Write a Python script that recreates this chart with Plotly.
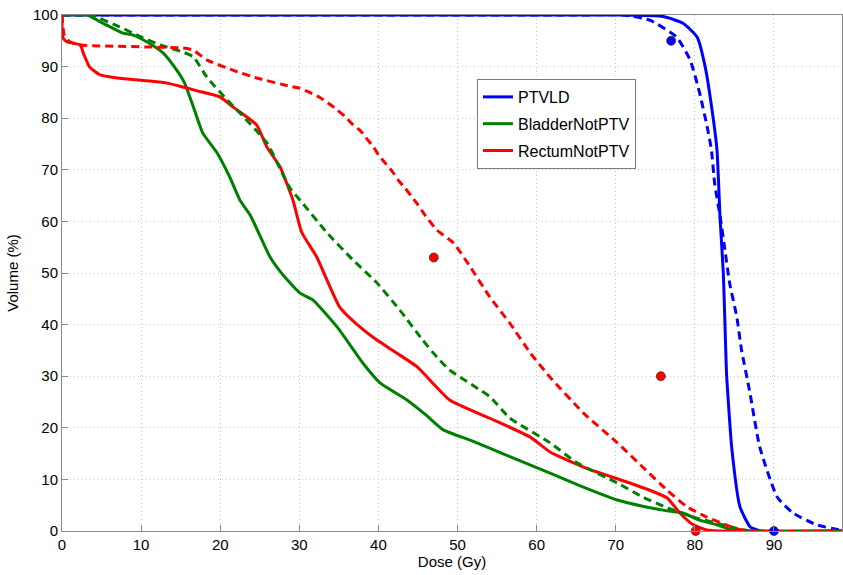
import plotly.graph_objects as go

# PTVLD
ptv_dose = [0, 70, 76, 78.5, 80.3, 81.3, 82.3, 82.8, 83.2, 83.6, 83.8, 84.0, 84.2, 84.65, 85.7, 87.0, 88.3, 98.6]
ptv_vol = [100, 100, 99.7, 98.4, 95.7, 90, 80.2, 73.8, 60.3, 49.9, 40.3, 30.6, 25.8, 16.3, 4.7, 0.8, 0, 0]
ptv_plan_dose = [0, 65, 70.9, 74.3, 77.7, 79.4, 80.6, 81.6, 82.1, 82.5, 83.2, 83.8, 84.4, 85.3, 85.9, 86.9, 88.2, 90.4, 92.4, 95.4, 98.3, 98.6]
ptv_plan_vol = [100, 100, 100, 99, 95.7, 91.3, 84.9, 78, 73.8, 67.4, 60.9, 54.5, 48, 41.5, 35.1, 27.3, 16.3, 6.6, 3.5, 1.2, 0.2, 0.1]

# BladderNotPTV
bl_dose = [0, 3.2, 4.8, 6.1, 7.7, 9.0, 10.7, 12.8, 14.5, 15.5, 16.6, 17.8, 19.6, 21.2, 22.5, 23.8, 26.3, 28, 30.1, 31.7, 34.8, 38.0, 40.2, 43.6, 46, 48.2, 51.6, 56, 61.7, 65.9, 70.2, 73.4, 76.5, 78.5, 80.6, 82.8, 84.4, 86, 98.6]
bl_vol = [100, 100, 98.7, 97.7, 96.5, 96.1, 94.8, 92.6, 89.3, 86.8, 82.2, 77.1, 73.3, 68.6, 64.1, 61.2, 53.1, 49.5, 46.1, 44.8, 39.5, 32.6, 28.7, 25.4, 22.5, 19.6, 17.6, 14.8, 11.2, 8.5, 6.0, 4.8, 3.9, 3.5, 2.1, 1.2, 0.3, 0, 0]
bl_plan_dose = [0, 3.9, 7.3, 9.9, 12.4, 15.3, 16.6, 18.3, 20.9, 22.5, 25.9, 28.8, 30.1, 33.5, 36.8, 39.8, 42.7, 45.6, 47.4, 49.0, 54.1, 56.6, 61.7, 65.1, 70.2, 73.4, 76.5, 79.8, 82.8, 85.3, 87, 98.6]
bl_plan_vol = [100, 99.8, 97.7, 95.8, 94.2, 92.8, 91.9, 88.0, 83.5, 81, 75.2, 66.5, 64.1, 57.8, 52.5, 48.1, 42.8, 37.0, 33.7, 31.2, 26.0, 21.9, 17.1, 13.2, 9.3, 6.6, 4.5, 2.7, 1.5, 0.5, 0, 0]

# RectumNotPTV
re_dose = [0, 0.1, 0.6, 2.3, 2.7, 3.5, 4.8, 7.0, 11.1, 13.3, 14.9, 17.1, 20.0, 21.6, 24.6, 25.9, 27.6, 28.4, 29.2, 30.3, 32.2, 35.1, 37.7, 39.8, 42.3, 44.9, 49.0, 54, 59.2, 61.7, 65.9, 71.4, 74.3, 76.5, 78.1, 79.8, 81.5, 83, 98.6]
re_vol = [100, 95.7, 94.8, 94.2, 92.6, 89.9, 88.4, 87.8, 87.2, 86.8, 86.2, 85.3, 84.1, 82.2, 78.7, 74.4, 70.5, 67.4, 64.1, 57.9, 53.1, 43.4, 39.5, 37.0, 34.5, 31.8, 25.4, 21.9, 18.2, 15.3, 12.4, 9.5, 7.9, 6.4, 3.5, 1.2, 0.2, 0, 0]
re_plan_dose = [0, 0.3, 1.0, 2.3, 15.3, 16.6, 18.3, 21.6, 24.6, 28.8, 30.1, 31.3, 32.6, 33.6, 34.7, 35.8, 36.6, 37.7, 38.6, 39.4, 40.0, 40.8, 41.7, 42.5, 43.4, 44.2, 45.0, 45.9, 47.4, 49.5, 51.6, 54.1, 56.6, 59.2, 61.7, 65.9, 70.2, 73.4, 76.5, 79.0, 81.5, 83.6, 85.3, 87, 98.6]
re_plan_vol = [100, 96, 94.8, 94.2, 93.6, 93.2, 91.3, 89.3, 87.8, 86.2, 85.8, 85.0, 84.0, 83.0, 81.7, 80.3, 79.0, 77.6, 75.9, 74.4, 72.9, 71.4, 69.8, 68.0, 66.4, 64.8, 63.2, 61.2, 58.3, 55.8, 51.2, 45.3, 40.3, 34.5, 29.8, 22.9, 17.1, 12.4, 7.9, 4.7, 2.7, 1.4, 0.4, 0, 0]

# Constraint points
ptv_pt_dose = [77, 90]
ptv_pt_vol = [95, 0]
re_pt_dose = [47, 75.7, 80.1]
re_pt_vol = [53, 30, 0]

BLUE = "#0000ff"
GREEN = "#008000"
RED = "#ff0000"
DASH = "8px,5px"
W = 3

fig = go.Figure()

def line(x, y, color, name, dash=None, show=False, group=None):
    ld = dict(color=color, width=W, shape="spline", smoothing=0.5)
    if dash:
        ld["dash"] = dash
    fig.add_trace(go.Scatter(
        x=x, y=y, mode="lines", name=name, line=ld,
        showlegend=show, legendgroup=group, cliponaxis=False, hoverinfo="skip"))

line(ptv_dose, ptv_vol, BLUE, "PTVLD", show=True, group="g1")
line(bl_dose, bl_vol, GREEN, "BladderNotPTV", show=True, group="g2")
line(re_dose, re_vol, RED, "RectumNotPTV", show=True, group="g3")
line(ptv_plan_dose, ptv_plan_vol, BLUE, "PTVLD plan", dash=DASH, group="g1")
line(bl_plan_dose, bl_plan_vol, GREEN, "Bladder plan", dash=DASH, group="g2")
line(re_plan_dose, re_plan_vol, RED, "Rectum plan", dash=DASH, group="g3")

fig.add_trace(go.Scatter(x=ptv_pt_dose, y=ptv_pt_vol, mode="markers", showlegend=False,
                         cliponaxis=False, hoverinfo="skip",
                         marker=dict(color=BLUE, size=9, line=dict(color="#333333", width=0.8))))
fig.add_trace(go.Scatter(x=re_pt_dose, y=re_pt_vol, mode="markers", showlegend=False,
                         cliponaxis=False, hoverinfo="skip",
                         marker=dict(color=RED, size=9, line=dict(color="#333333", width=0.8))))

FONT = "Liberation Sans, Arial, Helvetica, sans-serif"
axis_common = dict(
    showline=True, linecolor="#8a8a8a", linewidth=1, mirror=True,
    ticks="inside", ticklen=6, tickcolor="#8a8a8a",
    showgrid=True, gridcolor="#c4c4c4", griddash="1px,3px", gridwidth=1,
    zeroline=False, tickfont=dict(size=15, color="black", family=FONT),
)

fig.update_layout(
    width=843, height=575,
    margin=dict(l=62, r=1, t=15, b=44),
    paper_bgcolor="white", plot_bgcolor="white",
    font=dict(family=FONT, color="black", size=15),
    xaxis=dict(range=[0, 98.6], tickvals=[0, 10, 20, 30, 40, 50, 60, 70, 80, 90],
               title=dict(text="Dose (Gy)", font=dict(size=15), standoff=3), **axis_common),
    yaxis=dict(range=[0, 100], tickvals=[0, 10, 20, 30, 40, 50, 60, 70, 80, 90, 100],
               title=dict(text="Volume (%)", font=dict(size=15), standoff=10), **axis_common),
    legend=dict(x=0.532, y=0.876, xanchor="left", yanchor="top",
                bgcolor="white", bordercolor="#7a7a7a", borderwidth=1,
                font=dict(size=16, color="black"), tracegroupgap=3),
)

# remove the browser's default 8px body margin so the figure sits at the page origin
fig.write_html("out.html", config={"displayModeBar": False},
               post_script="document.body.style.margin='0px';")
